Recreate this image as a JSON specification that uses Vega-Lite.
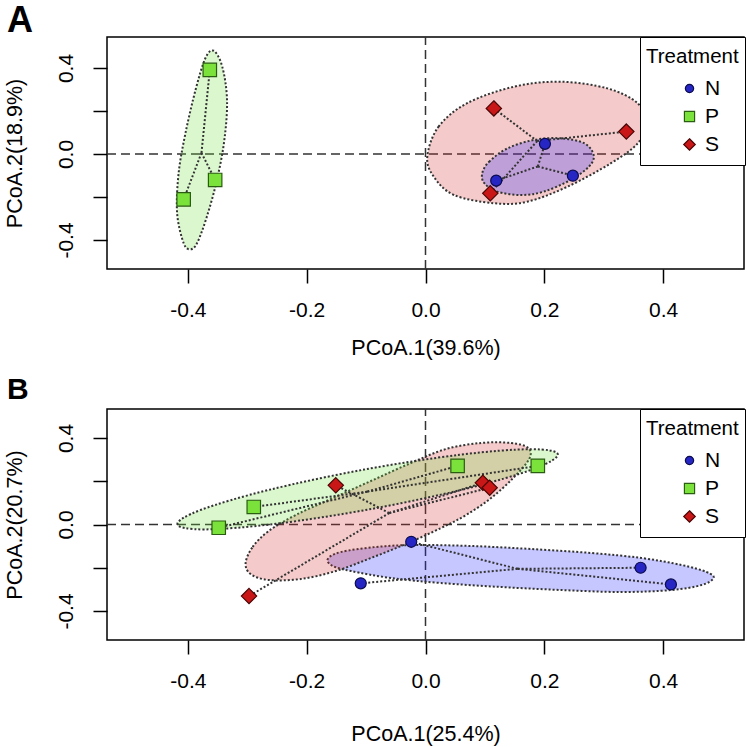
{
  "$schema": "https://vega.github.io/schema/vega-lite/v6.json",
  "background": "white",
  "padding": {"left": 3, "top": 2, "right": 0, "bottom": 0},
  "spacing": 14,
  "config": {
    "font": "Liberation Sans",
    "view": {"stroke": "black", "strokeWidth": 1.5},
    "axis": {
      "domain": false, "grid": false, "ticks": true, "tickSize": 14, "tickWidth": 1.5, "tickColor": "black",
      "labelFont": "Liberation Sans", "labelFontSize": 21, "labelColor": "black",
      "titleFont": "Liberation Sans", "titleFontSize": 21.5, "titleFontWeight": "normal", "titleColor": "black",
      "labelFlush": false, "labelOverlap": false
    },
    "legend": {
      "orient": "none", "legendX": 533, "legendY": 0, "fillColor": "white", "strokeColor": "black", "padding": 6,
      "titleFont": "Liberation Sans", "titleFontSize": 20.5, "titleFontWeight": "normal", "titleColor": "black",
      "titleBaseline": "line-top", "titleLineHeight": 28, "titlePadding": 11,
      "labelFont": "Liberation Sans", "labelFontSize": 21, "labelColor": "black", "labelOffset": 5, "symbolOffset": 33, "symbolSize": 85, "symbolStrokeWidth": 1.2,
      "clipHeight": 28, "rowPadding": 0
    },
    "title": {"font": "Liberation Sans", "color": "black"}
  },
  "resolve": {
    "scale": {"color": "independent", "shape": "independent", "stroke": "independent", "fill": "independent"},
    "legend": {"color": "independent", "shape": "independent", "stroke": "independent"}
  },
  "datasets": {
    "a_zv": [{"x": 0, "y": -0.535, "y2": 0.544}],
    "a_zh": [{"x": -0.536, "x2": 0.536, "y": 0}],
    "b_zv": [{"x": 0, "y": -0.534, "y2": 0.534}],
    "b_zh": [{"x": -0.536, "x2": 0.536, "y": 0}],
    "a_pts": [
      {"g": "N", "x": 0.201, "y": 0.047}, {"g": "N", "x": 0.119, "y": -0.124}, {"g": "N", "x": 0.248, "y": -0.101},
      {"g": "P", "x": -0.363, "y": 0.391}, {"g": "P", "x": -0.354, "y": -0.121}, {"g": "P", "x": -0.407, "y": -0.211},
      {"g": "S", "x": 0.115, "y": 0.212}, {"g": "S", "x": 0.109, "y": -0.183}, {"g": "S", "x": 0.338, "y": 0.104}
    ],
    "a_spd": [
      {"s": "N1", "k": 0, "x": 0.189, "y": -0.058}, {"s": "N1", "k": 1, "x": 0.201, "y": 0.047},
      {"s": "N2", "k": 0, "x": 0.189, "y": -0.058}, {"s": "N2", "k": 1, "x": 0.119, "y": -0.124},
      {"s": "N3", "k": 0, "x": 0.189, "y": -0.058}, {"s": "N3", "k": 1, "x": 0.248, "y": -0.101},
      {"s": "P1", "k": 0, "x": -0.377, "y": 0.005}, {"s": "P1", "k": 1, "x": -0.363, "y": 0.391},
      {"s": "P2", "k": 0, "x": -0.377, "y": 0.005}, {"s": "P2", "k": 1, "x": -0.354, "y": -0.121},
      {"s": "P3", "k": 0, "x": -0.377, "y": 0.005}, {"s": "P3", "k": 1, "x": -0.407, "y": -0.211},
      {"s": "S1", "k": 0, "x": 0.188, "y": 0.06}, {"s": "S1", "k": 1, "x": 0.115, "y": 0.212},
      {"s": "S2", "k": 0, "x": 0.188, "y": 0.06}, {"s": "S2", "k": 1, "x": 0.109, "y": -0.183},
      {"s": "S3", "k": 0, "x": 0.188, "y": 0.06}, {"s": "S3", "k": 1, "x": 0.338, "y": 0.104}
    ],
    "a_ell": [
      {"g": "S", "k": 0, "x": 0.003, "y": -0.012}, {"g": "S", "k": 1, "x": 0.022, "y": 0.127}, {"g": "S", "k": 2, "x": 0.070, "y": 0.236},
      {"g": "S", "k": 3, "x": 0.149, "y": 0.313}, {"g": "S", "k": 4, "x": 0.227, "y": 0.336}, {"g": "S", "k": 5, "x": 0.306, "y": 0.305},
      {"g": "S", "k": 6, "x": 0.357, "y": 0.236}, {"g": "S", "k": 7, "x": 0.371, "y": 0.142}, {"g": "S", "k": 8, "x": 0.357, "y": 0.049},
      {"g": "S", "k": 9, "x": 0.312, "y": -0.043}, {"g": "S", "k": 10, "x": 0.239, "y": -0.152}, {"g": "S", "k": 11, "x": 0.171, "y": -0.222},
      {"g": "S", "k": 12, "x": 0.115, "y": -0.229}, {"g": "S", "k": 13, "x": 0.048, "y": -0.191}, {"g": "S", "k": 14, "x": 0.014, "y": -0.106},
      {"g": "N", "k": 0, "x": 0.0955, "y": -0.090}, {"g": "N", "k": 1, "x": 0.107, "y": -0.036}, {"g": "N", "k": 2, "x": 0.138, "y": 0.026},
      {"g": "N", "k": 3, "x": 0.182, "y": 0.065}, {"g": "N", "k": 4, "x": 0.227, "y": 0.073}, {"g": "N", "k": 5, "x": 0.267, "y": 0.050},
      {"g": "N", "k": 6, "x": 0.283, "y": -0.005}, {"g": "N", "k": 7, "x": 0.275, "y": -0.059}, {"g": "N", "k": 8, "x": 0.244, "y": -0.121},
      {"g": "N", "k": 9, "x": 0.199, "y": -0.175}, {"g": "N", "k": 10, "x": 0.160, "y": -0.191}, {"g": "N", "k": 11, "x": 0.121, "y": -0.175},
      {"g": "N", "k": 12, "x": 0.099, "y": -0.136},
      {"g": "P", "k": 0, "x": -0.3565, "y": 0.480}, {"g": "P", "k": 1, "x": -0.342, "y": 0.406}, {"g": "P", "k": 2, "x": -0.334, "y": 0.251},
      {"g": "P", "k": 3, "x": -0.3385, "y": 0.065}, {"g": "P", "k": 4, "x": -0.351, "y": -0.121}, {"g": "P", "k": 5, "x": -0.368, "y": -0.292},
      {"g": "P", "k": 6, "x": -0.3845, "y": -0.415}, {"g": "P", "k": 7, "x": -0.396, "y": -0.443}, {"g": "P", "k": 8, "x": -0.407, "y": -0.415},
      {"g": "P", "k": 9, "x": -0.418, "y": -0.276}, {"g": "P", "k": 10, "x": -0.4155, "y": -0.090}, {"g": "P", "k": 11, "x": -0.404, "y": 0.096},
      {"g": "P", "k": 12, "x": -0.387, "y": 0.298}, {"g": "P", "k": 13, "x": -0.3705, "y": 0.445}
    ],
    "b_pts": [
      {"g": "N", "x": -0.109, "y": -0.272}, {"g": "N", "x": -0.024, "y": -0.080}, {"g": "N", "x": 0.362, "y": -0.200}, {"g": "N", "x": 0.413, "y": -0.277},
      {"g": "P", "x": -0.289, "y": 0.081}, {"g": "P", "x": -0.348, "y": -0.015}, {"g": "P", "x": 0.054, "y": 0.271}, {"g": "P", "x": 0.189, "y": 0.271},
      {"g": "S", "x": -0.151, "y": 0.181}, {"g": "S", "x": -0.297, "y": -0.331}, {"g": "S", "x": 0.0965, "y": 0.193}, {"g": "S", "x": 0.108, "y": 0.170}
    ],
    "b_spd": [
      {"s": "N1", "k": 0, "x": 0.155, "y": -0.205}, {"s": "N1", "k": 1, "x": -0.109, "y": -0.272},
      {"s": "N2", "k": 0, "x": 0.155, "y": -0.205}, {"s": "N2", "k": 1, "x": -0.024, "y": -0.080},
      {"s": "N3", "k": 0, "x": 0.155, "y": -0.205}, {"s": "N3", "k": 1, "x": 0.362, "y": -0.200},
      {"s": "N4", "k": 0, "x": 0.155, "y": -0.205}, {"s": "N4", "k": 1, "x": 0.413, "y": -0.277},
      {"s": "P1", "k": 0, "x": -0.098, "y": 0.152}, {"s": "P1", "k": 1, "x": -0.289, "y": 0.081},
      {"s": "P2", "k": 0, "x": -0.098, "y": 0.152}, {"s": "P2", "k": 1, "x": -0.348, "y": -0.015},
      {"s": "P3", "k": 0, "x": -0.098, "y": 0.152}, {"s": "P3", "k": 1, "x": 0.054, "y": 0.271},
      {"s": "P4", "k": 0, "x": -0.098, "y": 0.152}, {"s": "P4", "k": 1, "x": 0.189, "y": 0.271},
      {"s": "S1", "k": 0, "x": -0.061, "y": 0.053}, {"s": "S1", "k": 1, "x": -0.151, "y": 0.181},
      {"s": "S2", "k": 0, "x": -0.061, "y": 0.053}, {"s": "S2", "k": 1, "x": -0.297, "y": -0.331},
      {"s": "S3", "k": 0, "x": -0.061, "y": 0.053}, {"s": "S3", "k": 1, "x": 0.0965, "y": 0.193},
      {"s": "S4", "k": 0, "x": -0.061, "y": 0.053}, {"s": "S4", "k": 1, "x": 0.108, "y": 0.170}
    ],
    "b_ell": [
      {"g": "N", "k": 0, "x": -0.1644, "y": -0.1595}, {"g": "N", "k": 1, "x": -0.1425, "y": -0.1272}, {"g": "N", "k": 2, "x": -0.0835, "y": -0.1040},
      {"g": "N", "k": 3, "x": -0.0194, "y": -0.0948}, {"g": "N", "k": 4, "x": 0.0767, "y": -0.0994}, {"g": "N", "k": 5, "x": 0.1779, "y": -0.1133},
      {"g": "N", "k": 6, "x": 0.2791, "y": -0.1318}, {"g": "N", "k": 7, "x": 0.3634, "y": -0.1549}, {"g": "N", "k": 8, "x": 0.4309, "y": -0.1873},
      {"g": "N", "k": 9, "x": 0.4730, "y": -0.2197}, {"g": "N", "k": 10, "x": 0.4848, "y": -0.2474}, {"g": "N", "k": 11, "x": 0.4646, "y": -0.2798},
      {"g": "N", "k": 12, "x": 0.4140, "y": -0.3029}, {"g": "N", "k": 13, "x": 0.3297, "y": -0.3121}, {"g": "N", "k": 14, "x": 0.2285, "y": -0.3029},
      {"g": "N", "k": 15, "x": 0.1273, "y": -0.2890}, {"g": "N", "k": 16, "x": 0.0261, "y": -0.2705}, {"g": "N", "k": 17, "x": -0.0582, "y": -0.2474},
      {"g": "N", "k": 18, "x": -0.1256, "y": -0.2150}, {"g": "N", "k": 19, "x": -0.1560, "y": -0.1919},
      {"g": "S", "k": 0, "x": -0.3027, "y": -0.1780}, {"g": "S", "k": 1, "x": -0.2909, "y": -0.1040}, {"g": "S", "k": 2, "x": -0.2639, "y": -0.0301},
      {"g": "S", "k": 3, "x": -0.2184, "y": 0.0439}, {"g": "S", "k": 4, "x": -0.1594, "y": 0.1179}, {"g": "S", "k": 5, "x": -0.0919, "y": 0.2012},
      {"g": "S", "k": 6, "x": -0.0245, "y": 0.2844}, {"g": "S", "k": 7, "x": 0.0346, "y": 0.3491}, {"g": "S", "k": 8, "x": 0.0936, "y": 0.3769},
      {"g": "S", "k": 9, "x": 0.1442, "y": 0.3769}, {"g": "S", "k": 10, "x": 0.1728, "y": 0.3538}, {"g": "S", "k": 11, "x": 0.1745, "y": 0.3029},
      {"g": "S", "k": 12, "x": 0.1476, "y": 0.2150}, {"g": "S", "k": 13, "x": 0.1105, "y": 0.1225}, {"g": "S", "k": 14, "x": 0.0683, "y": 0.0439},
      {"g": "S", "k": 15, "x": 0.0261, "y": -0.0162}, {"g": "S", "k": 16, "x": -0.0329, "y": -0.0902}, {"g": "S", "k": 17, "x": -0.0919, "y": -0.1549},
      {"g": "S", "k": 18, "x": -0.1509, "y": -0.2150}, {"g": "S", "k": 19, "x": -0.2099, "y": -0.2520}, {"g": "S", "k": 20, "x": -0.2639, "y": -0.2566},
      {"g": "S", "k": 21, "x": -0.2943, "y": -0.2289},
      {"g": "P", "k": 0, "x": 0.2226, "y": 0.3246}, {"g": "P", "k": 1, "x": 0.1828, "y": 0.2576}, {"g": "P", "k": 2, "x": 0.0678, "y": 0.1651},
      {"g": "P", "k": 3, "x": -0.0914, "y": 0.0717}, {"g": "P", "k": 4, "x": -0.2523, "y": 0.0032}, {"g": "P", "k": 5, "x": -0.3717, "y": -0.0227},
      {"g": "P", "k": 6, "x": -0.4175, "y": 0.0009}, {"g": "P", "k": 7, "x": -0.3777, "y": 0.0680}, {"g": "P", "k": 8, "x": -0.2627, "y": 0.1605},
      {"g": "P", "k": 9, "x": -0.1035, "y": 0.2539}, {"g": "P", "k": 10, "x": 0.0573, "y": 0.3223}, {"g": "P", "k": 11, "x": 0.1767, "y": 0.3482}
    ]
  },
  "vconcat": [
    {
      "width": 637,
      "height": 232,
      "title": {"text": "A", "anchor": "start", "frame": "bounds", "fontSize": 36, "fontWeight": "bold", "offset": -4, "dx": 3},
      "encoding": {
        "x": {"field": "x", "type": "quantitative", "scale": {"domain": [-0.536, 0.536], "nice": false, "zero": false},
          "axis": {"title": "PCoA.1(39.6%)", "values": [-0.4, -0.2, 0, 0.2, 0.4], "labelExpr": "replace(format(datum.value, '.1f'), '\u2212', '-')", "labelPadding": 16, "titlePadding": 17}},
        "y": {"field": "y", "type": "quantitative", "scale": {"domain": [-0.535, 0.544], "nice": false, "zero": false},
          "axis": {"title": "PCoA.2(18.9%)", "values": [-0.4, -0.2, 0, 0.2, 0.4], "labelExpr": "abs(abs(datum.value) - 0.2) < 0.01 ? '' : replace(format(datum.value, '.1f'), '\u2212', '-')", "labelAngle": -90, "labelAlign": "center", "labelBaseline": "bottom", "labelPadding": 17, "titlePadding": 29}}
      },
      "layer": [
        {
          "data": {"name": "a_zv"},
          "mark": {"type": "rule", "stroke": "#333333", "strokeWidth": 1.5, "strokeDash": [9, 5]},
          "encoding": {"y2": {"field": "y2"}}
        },
        {
          "data": {"name": "a_zh"},
          "mark": {"type": "rule", "stroke": "#333333", "strokeWidth": 1.5, "strokeDash": [9, 5]},
          "encoding": {"x2": {"field": "x2"}}
        },
        {
          "data": {"name": "a_ell"},
          "mark": {"type": "line", "interpolate": "cardinal-closed", "stroke": "#333333", "strokeWidth": 2, "strokeDash": [2, 2], "fillOpacity": 0.25},
          "encoding": {
            "fill": {"field": "g", "type": "nominal", "scale": {"domain": ["S", "P", "N"], "range": ["#d42a2a", "#6fe03c", "#2020ff"]}, "legend": null},
            "detail": {"field": "g"},
            "order": {"field": "k", "type": "quantitative"}
          }
        },
        {
          "data": {"name": "a_spd"},
          "mark": {"type": "line", "stroke": "#333333", "strokeWidth": 2, "strokeDash": [2, 2]},
          "encoding": {
            "detail": {"field": "s"},
            "order": {"field": "k", "type": "quantitative"}
          }
        },
        {
          "data": {"name": "a_pts"},
          "mark": {"type": "point", "filled": true, "size": 150, "strokeWidth": 1.2, "opacity": 1},
          "encoding": {
            "color": {"field": "g", "type": "nominal", "title": "Treatment", "scale": {"domain": ["N", "P", "S"], "range": ["#2626c4", "#7be23c", "#c91616"]}},
            "stroke": {"field": "g", "type": "nominal", "title": "Treatment", "scale": {"domain": ["N", "P", "S"], "range": ["#0c0c50", "#2a5c12", "#4a0606"]}},
            "shape": {"field": "g", "type": "nominal", "title": "Treatment", "scale": {"domain": ["N", "P", "S"], "range": ["M -0.9 0 A 0.9 0.9 0 1 0 0.9 0 A 0.9 0.9 0 1 0 -0.9 0 Z", "M -1.1 -1.1 L 1.1 -1.1 L 1.1 1.1 L -1.1 1.1 Z", "M 0 -1.25 L 1.25 0 L 0 1.25 L -1.25 0 Z"]}}
          }
        }
      ]
    },
    {
      "width": 637,
      "height": 231,
      "title": {"text": "B", "anchor": "start", "frame": "bounds", "fontSize": 30, "fontWeight": "bold", "offset": 3, "dx": 3},
      "encoding": {
        "x": {"field": "x", "type": "quantitative", "scale": {"domain": [-0.536, 0.536], "nice": false, "zero": false},
          "axis": {"title": "PCoA.1(25.4%)", "values": [-0.4, -0.2, 0, 0.2, 0.4], "labelExpr": "replace(format(datum.value, '.1f'), '\u2212', '-')", "labelPadding": 16, "titlePadding": 32}},
        "y": {"field": "y", "type": "quantitative", "scale": {"domain": [-0.534, 0.534], "nice": false, "zero": false},
          "axis": {"title": "PCoA.2(20.7%)", "values": [-0.4, -0.2, 0, 0.2, 0.4], "labelExpr": "abs(abs(datum.value) - 0.2) < 0.01 ? '' : replace(format(datum.value, '.1f'), '\u2212', '-')", "labelAngle": -90, "labelAlign": "center", "labelBaseline": "bottom", "labelPadding": 17, "titlePadding": 29}}
      },
      "layer": [
        {
          "data": {"name": "b_zv"},
          "mark": {"type": "rule", "stroke": "#333333", "strokeWidth": 1.5, "strokeDash": [9, 5]},
          "encoding": {"y2": {"field": "y2"}}
        },
        {
          "data": {"name": "b_zh"},
          "mark": {"type": "rule", "stroke": "#333333", "strokeWidth": 1.5, "strokeDash": [9, 5]},
          "encoding": {"x2": {"field": "x2"}}
        },
        {
          "data": {"name": "b_ell"},
          "mark": {"type": "line", "interpolate": "cardinal-closed", "stroke": "#333333", "strokeWidth": 2, "strokeDash": [2, 2], "fillOpacity": 0.25},
          "encoding": {
            "fill": {"field": "g", "type": "nominal", "scale": {"domain": ["S", "P", "N"], "range": ["#d42a2a", "#6fe03c", "#2020ff"]}, "legend": null},
            "detail": {"field": "g"},
            "order": {"field": "k", "type": "quantitative"}
          }
        },
        {
          "data": {"name": "b_spd"},
          "mark": {"type": "line", "stroke": "#333333", "strokeWidth": 2, "strokeDash": [2, 2]},
          "encoding": {
            "detail": {"field": "s"},
            "order": {"field": "k", "type": "quantitative"}
          }
        },
        {
          "data": {"name": "b_pts"},
          "mark": {"type": "point", "filled": true, "size": 150, "strokeWidth": 1.2, "opacity": 1},
          "encoding": {
            "color": {"field": "g", "type": "nominal", "title": "Treatment", "scale": {"domain": ["N", "P", "S"], "range": ["#2626c4", "#7be23c", "#c91616"]}},
            "stroke": {"field": "g", "type": "nominal", "title": "Treatment", "scale": {"domain": ["N", "P", "S"], "range": ["#0c0c50", "#2a5c12", "#4a0606"]}},
            "shape": {"field": "g", "type": "nominal", "title": "Treatment", "scale": {"domain": ["N", "P", "S"], "range": ["M -0.9 0 A 0.9 0.9 0 1 0 0.9 0 A 0.9 0.9 0 1 0 -0.9 0 Z", "M -1.1 -1.1 L 1.1 -1.1 L 1.1 1.1 L -1.1 1.1 Z", "M 0 -1.25 L 1.25 0 L 0 1.25 L -1.25 0 Z"]}}
          }
        }
      ]
    }
  ]
}
